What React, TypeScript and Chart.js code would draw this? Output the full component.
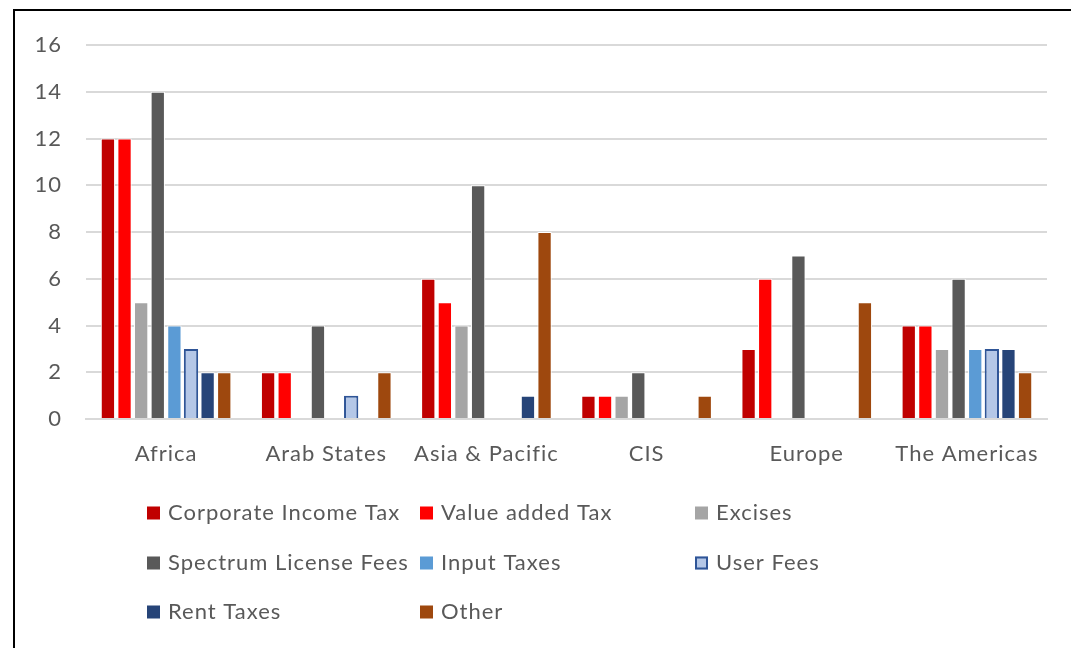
import React, { useEffect, useRef } from "react";
import { Chart, registerables } from "chart.js";

Chart.register(...registerables);

const categories = ["Africa", "Arab States", "Asia & Pacific", "CIS", "Europe", "The Americas"];
const seriesNames = [
  "Corporate Income Tax",
  "Value added Tax",
  "Excises",
  "Spectrum License Fees",
  "Input Taxes",
  "User Fees",
  "Rent Taxes",
  "Other",
];
const corporateIncomeTax = [12, 2, 6, 1, 3, 4];
const valueAddedTax = [12, 2, 5, 1, 6, 4];
const excises = [5, 0, 4, 1, 0, 3];
const spectrumLicenseFees = [14, 4, 10, 2, 7, 6];
const inputTaxes = [4, 0, 0, 0, 0, 3];
const userFees = [3, 1, 0, 0, 0, 3];
const rentTaxes = [2, 0, 1, 0, 0, 3];
const other = [2, 2, 8, 1, 5, 2];
const yTicks = [0, 2, 4, 6, 8, 10, 12, 14, 16];

const seriesValues = [
  corporateIncomeTax,
  valueAddedTax,
  excises,
  spectrumLicenseFees,
  inputTaxes,
  userFees,
  rentTaxes,
  other,
];
const fills = ["#C00000", "#FF0000", "#A5A5A5", "#595959", "#5B9BD5", "#B4C7E7", "#264478", "#9E480E"];
const borders = ["#FFFFFF", "#FFFFFF", "#FFFFFF", "#FFFFFF", "#FFFFFF", "#2F5597", "#FFFFFF", "#FFFFFF"];
const borderWidths = [1, 1, 1, 1, 1, 2, 1, 1];

const FONT = "Lato, 'Noto Sans', sans-serif";
const TEXT = "#595959";
const SPACING = "1px";

const spacingPlugin = {
  id: "spacing",
  beforeDraw(chart: any) {
    (chart.ctx as any).letterSpacing = SPACING;
  },
};

const gridLegend = {
  id: "gridLegend",
  afterDraw(chart: any) {
    const ctx = chart.ctx;
    const cols = [147, 420, 695];
    const rows = [513, 563, 612];
    const box = 13;
    ctx.save();
    (ctx as any).letterSpacing = SPACING;
    ctx.font = `22px ${FONT}`;
    ctx.textBaseline = "middle";
    ctx.textAlign = "left";
    chart.data.datasets.forEach((ds: any, i: number) => {
      const x = cols[i % 3];
      const y = rows[Math.floor(i / 3)];
      ctx.fillStyle = ds.backgroundColor;
      ctx.fillRect(x, y - box / 2, box, box);
      if (ds.borderColor !== "#FFFFFF") {
        ctx.strokeStyle = ds.borderColor;
        ctx.lineWidth = 2;
        ctx.strokeRect(x + 1, y - box / 2 + 1, box - 2, box - 2);
      }
      ctx.fillStyle = TEXT;
      ctx.fillText(ds.label, x + 21, y);
    });
    ctx.restore();
  },
};

export default function App() {
  const ref = useRef<HTMLCanvasElement | null>(null);
  useEffect(() => {
    if (!ref.current) return;
    const chart = new Chart(ref.current, {
      type: "bar",
      data: {
        labels: categories,
        datasets: seriesNames.map((name, i) => ({
          label: name,
          data: seriesValues[i],
          backgroundColor: fills[i],
          borderColor: borders[i],
          borderWidth: borderWidths[i],
          categoryPercentage: 0.83,
          barPercentage: 0.86,
        })),
      },
      options: {
        animation: false,
        responsive: false,
        layout: { padding: { left: 0, right: 24, top: 45, bottom: 0 } },
        plugins: {
          legend: { display: false },
          tooltip: { enabled: false },
        },
        scales: {
          x: {
            grid: { display: false, drawTicks: false },
            border: { display: true, color: "#D9D9D9", width: 2 },
            ticks: {
              color: TEXT,
              font: { family: FONT, size: 22 },
              padding: 22,
              maxRotation: 0,
            },
            afterFit: (s: any) => {
              s.height = 229;
            },
          },
          y: {
            min: 0,
            max: 16,
            afterBuildTicks: (s: any) => {
              s.ticks = yTicks.map((v) => ({ value: v }));
            },
            grid: { color: "#D9D9D9", lineWidth: 2, drawTicks: false },
            border: { display: false },
            ticks: {
              color: TEXT,
              font: { family: FONT, size: 22 },
              padding: 24,
            },
            afterFit: (s: any) => {
              s.width = 86;
            },
          },
        },
      },
      plugins: [spacingPlugin, gridLegend],
    });
    return () => chart.destroy();
  }, []);
  return (
    <div style={{ position: "absolute", left: 0, top: 0, width: 1071, height: 648, background: "#fff", overflow: "hidden" }}>
      <canvas ref={ref} width={1071} height={648} style={{ position: "absolute", left: 0, top: 0 }} />
      <div
        style={{
          position: "absolute",
          left: 13,
          top: 9,
          width: 1071,
          height: 700,
          borderLeft: "2px solid #000",
          borderTop: "2px solid #000",
          pointerEvents: "none",
        }}
      />
    </div>
  );
}
